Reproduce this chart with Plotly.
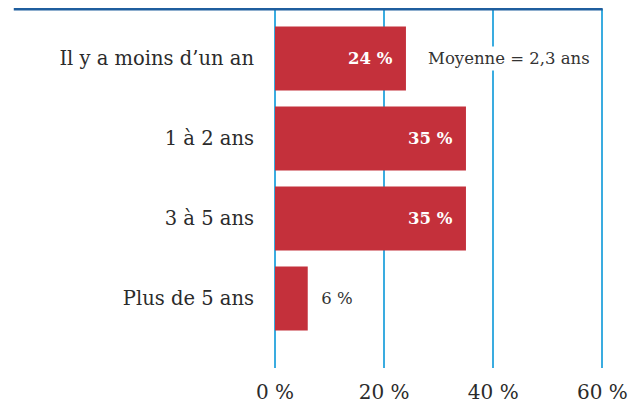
import plotly.graph_objects as go

categories = ["Il y a moins d\u2019un an", "1 \u00e0 2 ans", "3 \u00e0 5 ans", "Plus de 5 ans"]
values = [24, 35, 35, 6]
labels = ["<b>24 %</b>", "<b>35 %</b>", "<b>35 %</b>", "6 %"]
tick_values = [0, 20, 40, 60]
tick_labels = ["0 %", "20 %", "40 %", "60 %"]
mean_note = "Moyenne = 2,3 ans"

FONT = "DejaVu Serif"
RED = "#c4303b"
GRID = "#3aace0"
NAVY = "#1f5e9e"
PAD = "\u00a0\u00a0"

# inside labels sit away from the bar end, outside label away from the bar
bar_text = [
    t + PAD if v > 10 else PAD + t
    for t, v in zip(labels, values)
]

fig = go.Figure()

fig.add_trace(
    go.Bar(
        x=values,
        y=categories,
        orientation="h",
        marker=dict(color=RED, line=dict(width=0)),
        text=bar_text,
        textposition=["inside", "inside", "inside", "outside"],
        insidetextanchor="end",
        insidetextfont=dict(family=FONT, size=16.5, color="white"),
        outsidetextfont=dict(family=FONT, size=16.5, color="#333333"),
        textangle=0,
        cliponaxis=False,
        hoverinfo="skip",
    )
)

fig.add_annotation(
    x=42.8,
    y=categories[0],
    text=mean_note,
    showarrow=False,
    font=dict(family=FONT, size=16.5, color="#333333"),
    bgcolor="white",
    borderpad=2,
)

# dark rule across the top
fig.add_shape(
    type="line",
    xref="paper",
    yref="paper",
    x0=-0.794,
    x1=0.996,
    y0=1,
    y1=1,
    line=dict(color=NAVY, width=3),
)

fig.update_layout(
    width=630,
    height=398,
    margin=dict(l=267, r=34, t=1, b=38),
    paper_bgcolor="white",
    plot_bgcolor="white",
    showlegend=False,
    bargap=0.2,
    font=dict(family=FONT, color="#333333"),
    xaxis=dict(
        range=[0, 60.3],
        tickvals=tick_values,
        ticktext=tick_labels,
        showgrid=True,
        gridcolor=GRID,
        gridwidth=1.5,
        zeroline=True,
        zerolinecolor=GRID,
        zerolinewidth=1.5,
        showline=False,
        tickfont=dict(family=FONT, size=20, color="#2b2b2b"),
        ticks="",
        ticklabelstandoff=10,
        fixedrange=True,
    ),
    yaxis=dict(
        range=[3.87, -0.62],
        showgrid=False,
        zeroline=False,
        showline=False,
        ticks="",
        ticklabelstandoff=20,
        tickfont=dict(family=FONT, size=19.5, color="#2b2b2b"),
        fixedrange=True,
    ),
)

fig.write_html("out.html")
